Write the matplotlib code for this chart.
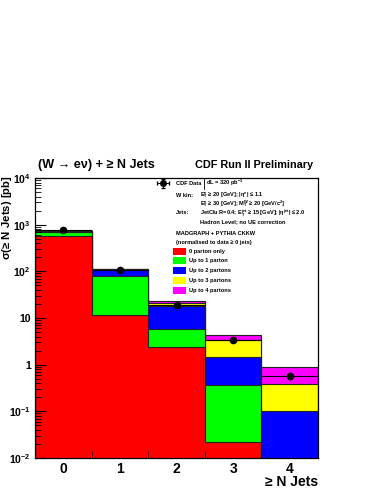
import numpy as np
import matplotlib
matplotlib.use('Agg')
import matplotlib.pyplot as plt
from matplotlib.patches import Rectangle

plt.rcParams['font.family'] = ['Liberation Sans', 'DejaVu Sans']
plt.rcParams['font.weight'] = 'bold'
plt.rcParams['mathtext.fontset'] = 'custom'
plt.rcParams['mathtext.rm'] = 'Liberation Sans:bold'
plt.rcParams['mathtext.bf'] = 'Liberation Sans:bold'
plt.rcParams['mathtext.it'] = 'Liberation Sans:bold:italic'
plt.rcParams['mathtext.default'] = 'bf'

# data
njets = [0, 1, 2, 3, 4]
edges = [-0.5, 0.5, 1.5, 2.5, 3.5, 4.5]
data = [750, 107, 18.7, 3.4, 0.57]
data_err = [30, 6, 1.5, 0.3, 0.13]

up0 = [585, 11.6, 2.36, 0.0224, 0.001]
up1 = [706, 79, 5.7, 0.367, 0.005]
up2 = [730, 110, 18.1, 1.48, 0.103]
up3 = [740, 113, 21.3, 3.38, 0.385]
up4 = [745, 115, 22.7, 4.32, 0.877]

labels = ['0 parton only', 'Up to 1 parton', 'Up to 2 partons',
          'Up to 3 partons', 'Up to 4 partons']
colors = ['#ff0000', '#00ff00', '#0000ff', '#ffff00', '#ff00ff']

fig = plt.figure(figsize=(3.82, 4.94), dpi=100)
ax = fig.add_axes([35/382, 1-458/494, 283/382, 280/494])
ax.set_yscale('log')
ax.set_ylim(1e-2, 1e4)
ax.set_xlim(-0.5, 4.5)

stack = [up4, up3, up2, up1, up0]
for vals, c in zip(stack, colors[::-1]):
    ax.stairs(vals, edges, baseline=1e-3, fill=True, facecolor=c,
              edgecolor='none')
    ax.stairs(vals, edges, baseline=1e-3, fill=False, color='#222222',
              linewidth=0.8)

ax.errorbar(njets, data, yerr=data_err, xerr=0.5, fmt='o', color='k',
            markersize=4.5, elinewidth=0.8, capsize=0, zorder=5)

# axis style (ROOT like)
ax.set_xticks(njets)
ax.set_xticklabels([str(n) for n in njets], fontsize=10, fontweight='bold')
ax.tick_params(axis='x', which='major', length=0, pad=3)
ax.set_xticks(edges[1:-1], minor=True)
ax.tick_params(axis='x', which='minor', direction='in', length=5, top=False)
ax.set_yticks([1e-2, 1e-1, 1, 10, 1e2, 1e3, 1e4])
ax.set_yticklabels([r'$10^{-2}$', r'$10^{-1}$', '1', '10', r'$10^{2}$',
                    r'$10^{3}$', r'$10^{4}$'], fontsize=7.5)
ax.tick_params(axis='y', which='major', direction='in', length=8, right=False,
               pad=3)
ax.tick_params(axis='y', which='minor', direction='in', length=4, right=False)
for s in ax.spines.values():
    s.set_linewidth(0.9)

fig.text(7.5/382, 1-218/494, r'$\sigma$(≥ N Jets) [pb]', rotation=90,
         ha='center', va='center', fontsize=8.2, fontweight='bold')
fig.text(318/382, 1-482/494, '≥ N Jets', ha='right', va='center',
         fontsize=10, fontweight='bold')

fig.text(38/382, 1-165/494, '(W → eν) + ≥ N Jets', ha='left', va='center',
         fontsize=9.1, fontweight='bold')
fig.text(313/382, 1-165/494, 'CDF Run II Preliminary', ha='right',
         va='center', fontsize=7.8, fontweight='bold')

# legend block
fs = 4.1
ax2 = fig.add_axes([0, 0, 1, 1], facecolor='none')
ax2.set_xlim(0, 382)
ax2.set_ylim(494, 0)
ax2.axis('off')
ax2.errorbar([163.3], [183.3], xerr=[[6], [6]], yerr=[[4.5], [4.5]], fmt='o',
             color='k', markersize=4, elinewidth=0.7, capsize=1.5)
ax2.text(176.5, 183.3, 'CDF Data', fontsize=fs, va='center')
ax2.plot([203.5, 203.5], [178, 189], color='k', lw=0.6)
ax2.text(206, 183.3, r'dL = 320 pb$^{-1}$', fontsize=fs, va='center')
ax2.text(176, 195.7, 'W kin:', fontsize=fs, va='center')
ax2.text(200.5, 195.5, r'E$_T^e$ ≥ 20 [GeV]; |$\eta^e$| ≤ 1.1',
         fontsize=fs, va='center')
ax2.text(200.5, 204, r'E$_T^\nu$ ≥ 30 [GeV]; M$_T^W$ ≥ 20 [GeV/c$^2$]',
         fontsize=fs, va='center')
ax2.text(176, 212.7, 'Jets:', fontsize=fs, va='center')
ax2.text(200.5, 213,
         r'JetClu R=0.4; E$_T^{jet}$ ≥ 15 [GeV]; |$\eta^{jet}$| ≤ 2.0',
         fontsize=fs, va='center')
ax2.text(200.5, 221.7, 'Hadron Level; no UE correction', fontsize=fs,
         va='center')
ax2.text(176, 233.3, 'MADGRAPH + PYTHIA CKKW', fontsize=fs, va='center')
ax2.text(176, 242, '(normalised to data ≥ 0 jets)', fontsize=fs, va='center')
ys = [251, 260.7, 270.3, 280, 290]
for yy, lab, c in zip(ys, labels, colors):
    ax2.add_patch(Rectangle((173.3, yy - 3.5), 12.7, 7, facecolor=c,
                            edgecolor='none'))
    ax2.text(188.7, yy, lab, fontsize=fs, va='center')

fig.savefig('out.png', dpi=100)
